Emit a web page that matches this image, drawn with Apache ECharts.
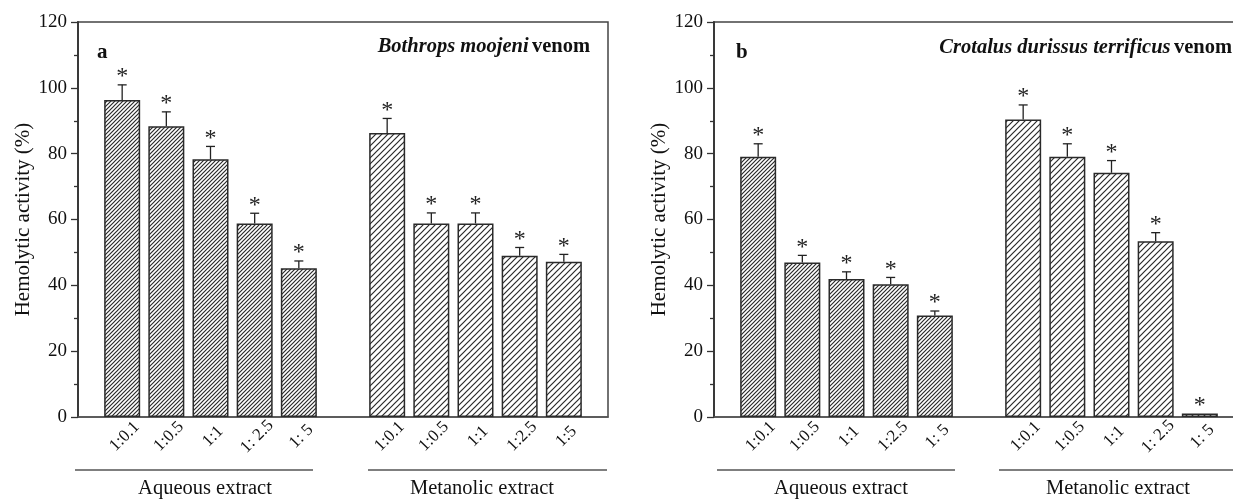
<!DOCTYPE html>
<html><head><meta charset="utf-8">
<script src="https://cdn.jsdelivr.net/npm/echarts@6/dist/echarts.min.js"></script>
<style>html,body{margin:0;padding:0;background:#fff;overflow:hidden;width:1233px;height:499px}#c{width:1260px;height:499px}</style>
</head><body><div id="c"></div>
<script>
// ---- data ----
const catsA = ['', '1:0.1', '1:0.5', '1:1', '1: 2.5', '1: 5', '', '1:0.1', '1:0.5', '1:1', '1:2.5', '1:5', ''];
const catsB = ['', '1:0.1', '1:0.5', '1:1', '1:2.5', '1: 5', '', '1:0.1', '1:0.5', '1:1', '1: 2.5', '1: 5', ''];
const aqueousA = [96.3, 88.3, 78.3, 58.8, 45.2];
const aqueousAErr = [4.6, 4.4, 3.9, 3.1, 2.2];
const metanolicA = [86.3, 58.8, 58.8, 49.0, 47.2];
const metanolicAErr = [4.4, 3.2, 3.2, 2.5, 2.2];
const aqueousB = [79.1, 46.9, 41.9, 40.3, 30.8];
const aqueousBErr = [3.9, 2.2, 2.2, 2.1, 1.4];
const metanolicB = [90.4, 79.1, 74.2, 53.4, 1.1];
const metanolicBErr = [4.4, 3.9, 3.7, 2.6, 0];
const yTicks = [0, 20, 40, 60, 80, 100, 120];

// ---- styling helpers ----
const FONT = '"Liberation Serif", "Times New Roman", serif';
function hatch(s, w) {
  const c = document.createElement('canvas');
  c.width = s; c.height = s;
  const g = c.getContext('2d');
  g.fillStyle = '#fff'; g.fillRect(0, 0, s, s);
  g.strokeStyle = '#2a2a2a'; g.lineWidth = w;
  g.beginPath();
  g.moveTo(-1, s + 1); g.lineTo(s + 1, -1);
  g.moveTo(-1, 1); g.lineTo(1, -1);
  g.moveTo(s - 1, s + 1); g.lineTo(s + 1, s - 1);
  g.stroke();
  return c;
}
const denseFill = { image: hatch(4, 1.2), repeat: 'repeat' };
const sparseFill = { image: hatch(6, 1.2), repeat: 'repeat' };

function barData(aq, met) {
  const d = ['-'];
  aq.forEach(v => d.push({ value: v, itemStyle: { color: denseFill } }));
  d.push('-');
  met.forEach(v => d.push({ value: v, itemStyle: { color: sparseFill } }));
  d.push('-');
  return d;
}
function errData(aq, aqE, met, metE) {
  const d = [];
  aq.forEach((v, i) => d.push([i + 1, v, aqE[i]]));
  met.forEach((v, i) => d.push([i + 7, v, metE[i]]));
  return d;
}
function renderErr(params, api) {
  const x = api.value(0), v = api.value(1), e = api.value(2);
  const p0 = api.coord([x, v]);
  const p1 = api.coord([x, v + e]);
  const st = { stroke: '#222', lineWidth: 1.3 };
  const ch = [];
  if (e > 0) {
    ch.push({ type: 'line', shape: { x1: p0[0], y1: p0[1], x2: p1[0], y2: p1[1] }, style: st });
    ch.push({ type: 'line', shape: { x1: p1[0] - 4.5, y1: p1[1], x2: p1[0] + 4.5, y2: p1[1] }, style: st });
  }
  ch.push({ type: 'text', style: { text: '*', x: p1[0], y: p1[1] - 8, align: 'center', verticalAlign: 'middle', font: '24px ' + FONT, fill: '#222' } });
  return { type: 'group', children: ch };
}

const grids = [
  { left: 78, top: 22, width: 530, height: 395 },
  { left: 714, top: 22, width: 530, height: 395 }
].map(g => Object.assign(g, { show: true, borderColor: '#444', borderWidth: 1.5, backgroundColor: 'transparent' }));

function xAx(i, cats) {
  return {
    type: 'category', gridIndex: i, data: cats, boundaryGap: false,
    axisLine: { lineStyle: { color: '#555', width: 1.5 } },
    axisTick: { show: false },
    axisLabel: { interval: 0, rotate: 45, align: 'center', verticalAlign: 'middle', margin: 22,
      padding: [7, 0, 0, 7], fontFamily: FONT, fontSize: 17, color: '#111' }
  };
}
function yAx(i) {
  return {
    type: 'value', gridIndex: i, min: 0, max: 120, interval: 20,
    name: 'Hemolytic activity (%)', nameLocation: 'middle', nameGap: 44,
    nameTextStyle: { fontFamily: FONT, fontSize: 21, color: '#111' },
    axisLine: { show: true, lineStyle: { color: '#333', width: 1.8 } },
    axisTick: { show: true, length: 7, lineStyle: { color: '#333', width: 1.3 } },
    minorTick: { show: true, splitNumber: 2, length: 4, lineStyle: { color: '#333', width: 1.3 } },
    splitLine: { show: false },
    axisLabel: { margin: 11, fontFamily: FONT, fontSize: 19, color: '#111',
      formatter: v => (yTicks.indexOf(v) >= 0 ? String(v) : '') }
  };
}

const lineStyle = { stroke: '#555', lineWidth: 1.5 };
const textStyle = (t, x, y) => ({ type: 'text', x: x, y: y, style: { text: t, font: '20.5px ' + FONT, fill: '#111', align: 'center', verticalAlign: 'middle' } });

const option = {
  animation: false,
  backgroundColor: '#fff',
  grid: grids,
  xAxis: [xAx(0, catsA), xAx(1, catsB)],
  yAxis: [yAx(0), yAx(1)],
  series: [
    { type: 'bar', xAxisIndex: 0, yAxisIndex: 0, barWidth: 36, data: barData(aqueousA, metanolicA),
      itemStyle: { borderColor: '#2a2a2a', borderWidth: 1.5 } },
    { type: 'custom', xAxisIndex: 0, yAxisIndex: 0, data: errData(aqueousA, aqueousAErr, metanolicA, metanolicAErr), renderItem: renderErr, z: 5 },
    { type: 'bar', xAxisIndex: 1, yAxisIndex: 1, barWidth: 36, data: barData(aqueousB, metanolicB),
      itemStyle: { borderColor: '#2a2a2a', borderWidth: 1.5 } },
    { type: 'custom', xAxisIndex: 1, yAxisIndex: 1, data: errData(aqueousB, aqueousBErr, metanolicB, metanolicBErr), renderItem: renderErr, z: 5 }
  ],
  graphic: [
    { type: 'text', left: 97, top: 42, style: { text: 'a', font: 'bold 21px ' + FONT, fill: '#111' } },
    { type: 'text', left: 736, top: 42, style: { text: 'b', font: 'bold 21px ' + FONT, fill: '#111' } },
    { type: 'text', x: 590, y: 47, style: { text: '{i|Bothrops moojeni} {b|venom}', align: 'right', verticalAlign: 'middle',
      rich: { i: { font: 'italic bold 20.5px ' + FONT, fill: '#111' }, b: { font: 'bold 20.5px ' + FONT, fill: '#111' } } } },
    { type: 'text', x: 1232, y: 48, style: { text: '{i|Crotalus durissus terrificus} {b|venom}', align: 'right', verticalAlign: 'middle',
      rich: { i: { font: 'italic bold 20.5px ' + FONT, fill: '#111' }, b: { font: 'bold 20.5px ' + FONT, fill: '#111' } } } },
    { type: 'line', shape: { x1: 75, y1: 470, x2: 313, y2: 470 }, style: lineStyle },
    { type: 'line', shape: { x1: 368, y1: 470, x2: 607, y2: 470 }, style: lineStyle },
    { type: 'line', shape: { x1: 717, y1: 470, x2: 955, y2: 470 }, style: lineStyle },
    { type: 'line', shape: { x1: 999, y1: 470, x2: 1250, y2: 470 }, style: lineStyle },
    textStyle('Aqueous extract', 205, 489),
    textStyle('Metanolic extract', 482, 489),
    textStyle('Aqueous extract', 841, 489),
    textStyle('Metanolic extract', 1118, 489)
  ]
};
const chart = echarts.init(document.getElementById('c'), null, { renderer: 'canvas' });
chart.setOption(option);
</script></body></html>
